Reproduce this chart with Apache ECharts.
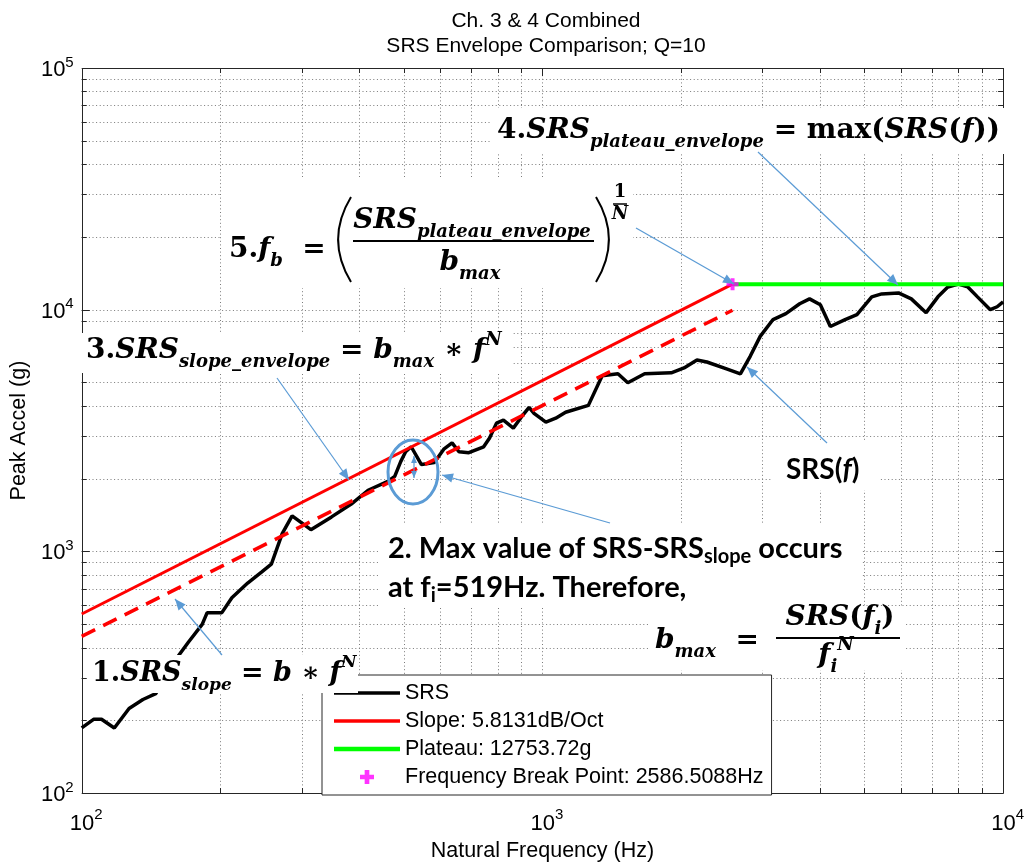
<!DOCTYPE html>
<html><head><meta charset="utf-8">
<script src="https://cdn.jsdelivr.net/npm/echarts@6/dist/echarts.min.js"></script>
<style>html,body{margin:0;padding:0;background:#fff}#c{width:1027px;height:867px}</style>
</head><body><div id="c"></div>
<script>
// ---------------- data ----------------
const SRS_FREQ = [100, 106.1, 110.4, 117.7, 126.7, 135.8, 144.8, 152.1, 159.8, 170.4, 182.6, 187.2, 201.5, 211.8, 229.2, 245.6, 258.0, 272.4, 286.2, 314.4, 348.6, 384.7, 418.4, 461.8, 478.0, 492.5, 504.8, 519.0, 546.3, 582.6, 611.9, 636.6, 659.0, 692.3, 745.6, 768.0, 795.0, 823.0, 864.7, 899.5, 935.6, 959.0, 1017.4, 1068.9, 1122.9, 1258.2, 1348.1, 1458.8, 1532.5, 1667, 1904, 2030, 2165, 2275, 2510, 2690, 2827, 2970, 3167, 3377, 3618, 3801, 4012, 4217, 4540, 4817, 5187, 5450, 5928, 6321, 6806, 7220, 7586, 8000, 8373, 8799, 9378, 9708, 10000];
const SRS_VAL = [186, 202, 202, 186, 224, 244, 258, 303, 356, 421, 499, 558, 558, 643, 740, 821, 885, 1185, 1403, 1230, 1389, 1570, 1791, 1949, 2043, 2352, 2584, 2710, 2287, 2330, 2658, 2812, 2584, 2560, 2709, 2948, 3394, 3490, 3237, 3591, 3944, 3728, 3424, 3556, 3763, 4019, 5328, 5429, 4989, 5429, 5480, 5743, 6192, 6076, 5688, 5429, 6429, 7757, 9104, 9631, 10580, 11088, 10481, 8522, 9104, 9541, 11300, 11622, 11731, 11088, 9722, 11300, 12400, 12753.72, 12450, 11300, 10000, 10285, 10782];
const SLOPE_FREQ = [100, 2586.5088];
const SLOPE_VAL = [551, 12753.72];
const FIT_FREQ = [100, 2586.5088];
const FIT_VAL = [445, 9950];
const PLATEAU_FREQ = [2586.5088, 10000];
const PLATEAU_VAL = [12753.72, 12753.72];
const BREAK_FREQ = [2586.5088];
const BREAK_VAL = [12753.72];
const X_DECADES = [100, 1000, 10000];
const Y_DECADES = [100, 1000, 10000, 100000];
const MINOR_MULT = [2, 3, 4, 5, 6, 7, 8, 9];
const LEGEND_NAMES = ['SRS', 'Slope: 5.8131dB/Oct', 'Plateau: 12753.72g', 'Frequency Break Point: 2586.5088Hz'];
const TITLE_TEXT = 'Ch. 3 & 4 Combined\nSRS Envelope Comparison; Q=10';
const X_NAME = 'Natural Frequency (Hz)';
const Y_NAME = 'Peak Accel (g)';

// ---------------- helpers ----------------
const X_MIN = X_DECADES[0], X_MAX = X_DECADES[X_DECADES.length - 1];
const Y_MIN = Y_DECADES[0], Y_MAX = Y_DECADES[Y_DECADES.length - 1];
function buildTicks(decades, max) {
  const out = [];
  decades.forEach(d => { out.push(d); if (d < max) MINOR_MULT.forEach(m => out.push(d * m)); });
  return out;
}
const X_TICKS = buildTicks(X_DECADES, X_MAX);
const Y_TICKS = buildTicks(Y_DECADES, Y_MAX);
const zip = (a, b) => a.map((v, i) => [v, b[i]]);

const SANS = '"Liberation Sans", Arial, sans-serif';
const MATH = '"DejaVu Serif", "Liberation Serif", serif';
const CAL = 'Lato, "Open Sans", sans-serif';
const BLUE = '#5b9bd5';
const AXC = '#262626';

function frameRender(params, api) {
  const cs = params.coordSys;
  const L = cs.x, T = cs.y, R = cs.x + cs.width, B = cs.y + cs.height;
  const ch = [];
  const dot = { stroke: '#7a7a7a', lineWidth: 1, lineDash: [1, 2.6] };
  X_TICKS.forEach(t => {
    const px = Math.round(api.coord([t, Y_MIN])[0]) + 0.5;
    const major = X_DECADES.indexOf(t) >= 0;
    const len = major ? 8 : 5;
    if (t > X_MIN && t < X_MAX) ch.push({ type: 'line', shape: { x1: px, y1: T, x2: px, y2: B }, style: dot, silent: true });
    ch.push({ type: 'line', shape: { x1: px, y1: B, x2: px, y2: B - len }, style: { stroke: AXC, lineWidth: 1 } });
    ch.push({ type: 'line', shape: { x1: px, y1: T, x2: px, y2: T + len }, style: { stroke: AXC, lineWidth: 1 } });
  });
  Y_TICKS.forEach(t => {
    const py = Math.round(api.coord([X_MIN, t])[1]) + 0.5;
    const major = Y_DECADES.indexOf(t) >= 0;
    const len = major ? 8 : 5;
    if (t > Y_MIN && t < Y_MAX) ch.push({ type: 'line', shape: { x1: L, y1: py, x2: R, y2: py }, style: dot, silent: true });
    ch.push({ type: 'line', shape: { x1: L, y1: py, x2: L + len, y2: py }, style: { stroke: AXC, lineWidth: 1 } });
    ch.push({ type: 'line', shape: { x1: R, y1: py, x2: R - len, y2: py }, style: { stroke: AXC, lineWidth: 1 } });
  });
  ch.push({ type: 'rect', shape: { x: Math.round(L) + 0.5, y: Math.round(T) + 0.5, width: Math.round(cs.width), height: Math.round(cs.height) }, style: { fill: null, stroke: AXC, lineWidth: 1 } });
  return { type: 'group', children: ch };
}

function arrow(x1, y1, x2, y2, head, both) {
  head = head || 11;
  const els = [{ type: 'line', z: 102, shape: { x1, y1, x2, y2 }, style: { stroke: BLUE, lineWidth: 1.2 } }];
  function tip(ax, ay, bx, by) {
    const a = Math.atan2(by - ay, bx - ax);
    const w = head * 0.42;
    const baseX = bx - head * Math.cos(a), baseY = by - head * Math.sin(a);
    return { type: 'polygon', z: 102, shape: { points: [[bx, by], [baseX + w * Math.sin(a), baseY - w * Math.cos(a)], [baseX - w * Math.sin(a), baseY + w * Math.cos(a)]] }, style: { fill: BLUE } };
  }
  els.push(tip(x1, y1, x2, y2));
  if (both) els.push(tip(x2, y2, x1, y1));
  return els;
}
function box(x, y, w, h) { return { type: 'rect', z: 100, shape: { x, y, width: w, height: h }, style: { fill: '#fff' } }; }
function rtext(x, y, text, rich, align) {
  return { type: 'text', z: 101, x, y, style: { text, rich, align: align || 'left', verticalAlign: 'middle' } };
}
function bar(x1, x2, y, w) { return { type: 'line', z: 101, shape: { x1, y1: y, x2, y2: y }, style: { stroke: '#000', lineWidth: w || 2 } }; }

function makeMath(fs, ss) {
  return {
    n: { fontFamily: MATH, fontSize: fs, fontWeight: 'bold', fontStyle: 'normal', lineHeight: 40, verticalAlign: 'middle', color: '#000' },
    v: { fontFamily: MATH, fontSize: fs, fontWeight: 'bold', fontStyle: 'italic', lineHeight: 40, verticalAlign: 'middle', color: '#000' },
    o: { fontFamily: MATH, fontSize: fs, fontWeight: 'bold', fontStyle: 'normal', lineHeight: 40, verticalAlign: 'middle', color: '#000' },
    sub: { fontFamily: MATH, fontSize: ss, fontWeight: 'bold', fontStyle: 'italic', lineHeight: 12, verticalAlign: 'bottom', color: '#000' },
    sup: { fontFamily: MATH, fontSize: ss, fontWeight: 'bold', fontStyle: 'italic', lineHeight: 12, verticalAlign: 'top', color: '#000' }
  };
}
const mathRich = makeMath(28, 18);
const mathRichS = makeMath(27, 17);
const calRich = {
  t: { fontFamily: CAL, fontSize: 29, fontWeight: 'bold', lineHeight: 36, verticalAlign: 'middle', color: '#000' },
  sub: { fontFamily: CAL, fontSize: 20, fontWeight: 'bold', lineHeight: 10, verticalAlign: 'bottom', color: '#000' }
};
const samRich = {
  t: { fontFamily: CAL, fontSize: 28, fontWeight: 'bold', lineHeight: 36, verticalAlign: 'middle', color: '#000' },
  ti: { fontFamily: CAL, fontSize: 28, fontWeight: 'bold', fontStyle: 'italic', lineHeight: 36, verticalAlign: 'middle', color: '#000' }
};

const graphics = [].concat(
  // annotation 4
  [box(490, 108, 522, 46),
   rtext(497, 131, '{n|4.}{v|SRS}{sub|plateau_envelope}{o| = max(}{v|SRS}{o|(}{v|f}{o|))}', mathRich)],
  arrow(758, 152, 898, 285),
  // annotation 5
  [box(221, 178, 412, 110),
   rtext(229, 250, '{n|5.}{v|f}{sub|b}{o|  = }', mathRich),
   { type: 'bezierCurve', z: 101, shape: { x1: 351, y1: 197, x2: 351, y2: 282, cpx1: 334, cpy1: 225, cpx2: 334, cpy2: 254 }, style: { stroke: '#000', lineWidth: 2, fill: null } },
   { type: 'bezierCurve', z: 101, shape: { x1: 596, y1: 197, x2: 596, y2: 282, cpx1: 613, cpy1: 225, cpx2: 613, cpy2: 254 }, style: { stroke: '#000', lineWidth: 2, fill: null } },
   rtext(472, 221, '{v|SRS}{sub|plateau_envelope}', mathRich, 'center'),
   bar(353, 594, 241, 2),
   rtext(470, 263, '{v|b}{sub|max}', mathRich, 'center'),
   rtext(620, 192, '{x|1}', { x: { fontFamily: MATH, fontSize: 18, fontWeight: 'bold', color: '#000' } }, 'center'),
   bar(613, 627, 204, 1.5),
   rtext(620, 214, '{x|N}', { x: { fontFamily: MATH, fontSize: 18, fontWeight: 'bold', fontStyle: 'italic', color: '#000' } }, 'center')],
  arrow(636, 228, 734, 284),
  // annotation 3
  [box(80, 333, 432, 40),
   rtext(86, 351, '{n|3.}{v|SRS}{sub|slope_envelope}{o| = }{v|b}{sub|max}{o| ∗ }{v|f}{sup|N}', mathRich)],
  arrow(277, 378, 349, 480),
  // annotation 1
  [box(88, 655, 270, 38),
   rtext(92, 674, '{n|1.}{v|SRS}{sub|slope}{o| = }{v|b}{o| ∗ }{v|f}{sup|N}', mathRichS)],
  arrow(222, 655, 175, 599),
  // annotation 2
  [box(380, 524, 482, 84),
   rtext(388, 549, '{t|2. Max value of SRS-SRS}{sub|slope}{t| occurs}', calRich),
   rtext(388, 588, '{t|at f}{sub|i}{t|=519Hz. Therefore,}', calRich),
   box(650, 608, 255, 62),
   rtext(655, 641, '{v|b}{sub|max}{o|  = }', mathRich),
   rtext(840, 618, '{v|SRS}{o|(}{v|f}{sub|i}{o|)}', mathRich, 'center'),
   bar(776, 900, 638, 2),
   rtext(836, 656, '{v|f}{sub|i}{sup|N}', mathRich, 'center')],
  arrow(610, 523, 442, 475),
  // circle + small double arrow
  [{ type: 'ellipse', z: 102, shape: { cx: 413, cy: 472, rx: 25, ry: 32 }, style: { stroke: BLUE, lineWidth: 3, fill: null } }],
  arrow(414, 456, 414, 478, 7, true),
  // SRS(f) label
  [box(772, 440, 108, 50),
   rtext(786, 470, '{t|SRS(}{ti|f}{t|)}', samRich)],
  arrow(827, 443, 747, 367)
);

const LINE_ICON = 'path://M0,0H66V3.5H0Z';
const GREEN_ICON = 'path://M0,0H66V4.5H0Z';
const PLUS_ICON = 'path://M4,0H8V4H12V8H8V12H4V8H0V4H4Z';

const option = {
  animation: false,
  backgroundColor: '#fff',
  title: {
    text: TITLE_TEXT, left: 546, top: 9, textAlign: 'center', padding: 0,
    textStyle: { fontFamily: SANS, fontSize: 21, fontWeight: 'normal', color: '#000', lineHeight: 25 }
  },
  grid: { left: 80, right: 14, top: 68, bottom: 64, containLabel: false },
  legend: {
    orient: 'vertical', left: 322, top: 675, z: 10,
    data: [
      { name: LEGEND_NAMES[0], icon: LINE_ICON },
      { name: LEGEND_NAMES[1], icon: LINE_ICON },
      { name: LEGEND_NAMES[2], icon: GREEN_ICON },
      { name: LEGEND_NAMES[3], icon: PLUS_ICON }
    ],
    padding: [7, 8, 7, 12], itemWidth: 66, itemHeight: 14, itemGap: 6,
    backgroundColor: '#fff', borderColor: AXC, borderWidth: 1,
    textStyle: { fontFamily: SANS, fontSize: 21.5, lineHeight: 22, color: '#000' }
  },
  xAxis: {
    type: 'log', logBase: 10, min: X_MIN, max: X_MAX,
    name: X_NAME, nameLocation: 'middle', nameGap: 45,
    nameTextStyle: { fontFamily: SANS, fontSize: 21.5, color: '#000' },
    axisLine: { show: false }, axisTick: { show: false }, splitLine: { show: false },
    axisLabel: {
      margin: 14,
      formatter: v => '{s|}{b|10}{e|' + Math.round(Math.log10(v)) + '}',
      rich: {
        s: { width: 9 },
        b: { fontFamily: SANS, fontSize: 22, color: '#000', lineHeight: 28, verticalAlign: 'bottom' },
        e: { fontFamily: SANS, fontSize: 15, color: '#000', lineHeight: 12, verticalAlign: 'top' }
      }
    }
  },
  yAxis: {
    type: 'log', logBase: 10, min: Y_MIN, max: Y_MAX,
    name: Y_NAME, nameLocation: 'middle', nameGap: 49, nameRotate: 90,
    nameTextStyle: { fontFamily: SANS, fontSize: 21.5, color: '#000' },
    axisLine: { show: false }, axisTick: { show: false }, splitLine: { show: false },
    axisLabel: {
      margin: 8,
      formatter: v => '{b|10}{e|' + Math.round(Math.log10(v)) + '}',
      rich: {
        b: { fontFamily: SANS, fontSize: 22, color: '#000', lineHeight: 26, verticalAlign: 'bottom' },
        e: { fontFamily: SANS, fontSize: 15, color: '#000', lineHeight: 12, verticalAlign: 'top' }
      }
    }
  },
  series: [
    { type: 'custom', name: 'frame', renderItem: frameRender, data: [[X_MIN, Y_MIN]], silent: true, clip: false, z: 0, tooltip: { show: false } },
    { type: 'line', name: LEGEND_NAMES[0], data: zip(SRS_FREQ, SRS_VAL), symbol: 'none', showSymbol: false, lineStyle: { color: '#000', width: 3.5 }, itemStyle: { color: '#000' }, z: 3 },
    { type: 'line', name: 'SRS slope fit', data: zip(FIT_FREQ, FIT_VAL), symbol: 'none', showSymbol: false, lineStyle: { color: '#ff0000', width: 3.5, type: [15, 9] }, itemStyle: { color: '#ff0000' }, z: 4 },
    { type: 'line', name: LEGEND_NAMES[1], data: zip(SLOPE_FREQ, SLOPE_VAL), symbol: 'none', showSymbol: false, lineStyle: { color: '#ff0000', width: 3 }, itemStyle: { color: '#ff0000' }, z: 4 },
    { type: 'line', name: LEGEND_NAMES[2], data: zip(PLATEAU_FREQ, PLATEAU_VAL), symbol: 'none', showSymbol: false, lineStyle: { color: '#00ff00', width: 4 }, itemStyle: { color: '#00ff00' }, z: 4 },
    { type: 'scatter', name: LEGEND_NAMES[3], data: zip(BREAK_FREQ, BREAK_VAL), symbol: PLUS_ICON, symbolSize: 12, itemStyle: { color: '#ff00ff' }, z: 5 }
  ],
  graphic: { elements: graphics }
};
const chart = echarts.init(document.getElementById('c'));
chart.setOption(option);
</script>
</body></html>
